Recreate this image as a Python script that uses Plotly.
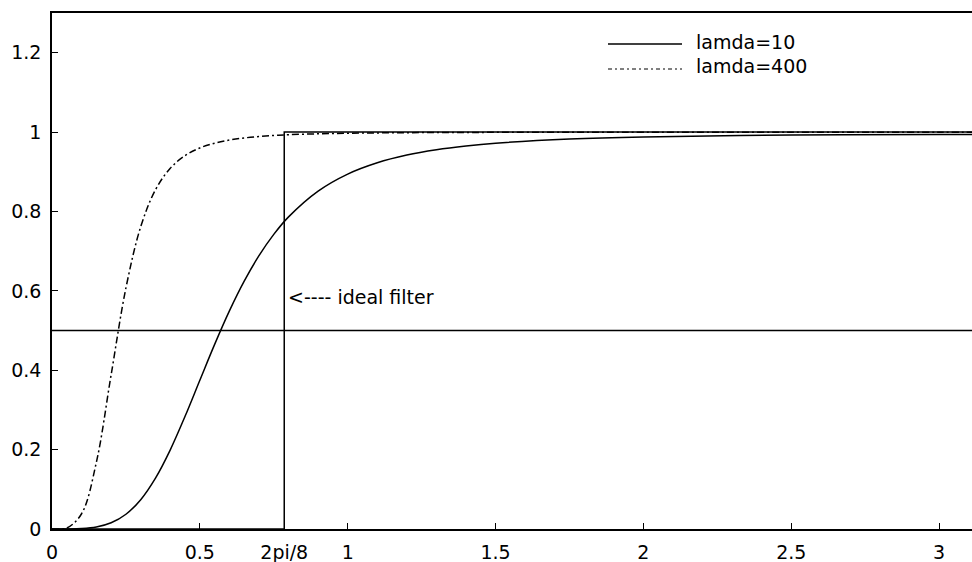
import plotly.graph_objects as go

# frequency (radians)
freq = [0, 0.05, 0.1, 0.15, 0.2, 0.25, 0.3, 0.35, 0.4, 0.45, 0.5, 0.55, 0.6, 0.65,
        0.7, 0.75, 0.8, 0.9, 1.0, 1.1, 1.2, 1.3, 1.4, 1.5, 1.75, 2.0, 2.5, 3.0, 3.1416]
# gain, lambda = 10
gain_l10 = [0, 0.0001, 0.001, 0.005, 0.0156, 0.0372, 0.0739, 0.1282, 0.1995, 0.2839,
            0.3748, 0.4652, 0.5496, 0.6245, 0.6887, 0.7422, 0.7863, 0.8513, 0.8942,
            0.9227, 0.9421, 0.9555, 0.9650, 0.9719, 0.9823, 0.9877, 0.9924, 0.9937, 0.9938]
# gain, lambda = 400
gain_l400 = [0, 0.0025, 0.0384, 0.1679, 0.3886, 0.6073, 0.7614, 0.8547, 0.9088, 0.9407,
             0.9600, 0.9721, 0.9799, 0.9852, 0.9888, 0.9914, 0.9933, 0.9957, 0.9971,
             0.9979, 0.9985, 0.9989, 0.9991, 0.9993, 0.9995, 0.9997, 0.9998, 0.9998, 0.9998]

cutoff = 0.7854  # 2pi/8
ideal_x = [0, cutoff, cutoff, 3.1416]
ideal_y = [0, 0, 1, 1]
half_x = [0, 3.1416]
half_y = [0.5, 0.5]

x_ticks = [0, 0.5, cutoff, 1, 1.5, 2, 2.5, 3]
x_labels = ["0", "0.5", "2pi/8", "1", "1.5", "2", "2.5", "3"]
y_ticks = [0, 0.2, 0.4, 0.6, 0.8, 1, 1.2]
y_labels = ["0", "0.2", "0.4", "0.6", "0.8", "1", "1.2"]

FONT = "DejaVu Sans"
W, H = 972, 562

fig = go.Figure()
fig.add_trace(go.Scatter(x=ideal_x, y=ideal_y, mode="lines",
                         line=dict(color="black", width=1.5), showlegend=False))
fig.add_trace(go.Scatter(x=half_x, y=half_y, mode="lines",
                         line=dict(color="black", width=1.5), showlegend=False))
fig.add_trace(go.Scatter(x=freq, y=gain_l10, mode="lines", name="lamda=10",
                         line=dict(color="black", width=1.5, shape="spline"), showlegend=False))
fig.add_trace(go.Scatter(x=freq, y=gain_l400, mode="lines", name="lamda=400",
                         line=dict(color="black", width=1.5, dash="7px,3px,2px,3px", shape="spline"),
                         showlegend=False))

# legend drawn manually (long sample lines), positions in pixels converted to paper
L, T, B = 52, 13, 33
PW, PH = W - L, H - T - B
def px(xp):
    return (xp - L) / PW
def py(yp):
    return (H - B - yp) / PH

fig.add_shape(type="line", xref="paper", yref="paper", x0=px(608), x1=px(682), y0=py(44), y1=py(44),
              line=dict(color="black", width=1.5))
fig.add_shape(type="line", xref="paper", yref="paper", x0=px(608), x1=px(682), y0=py(69), y1=py(69),
              line=dict(color="black", width=1, dash="4px,3px,2px,3px"))
fig.add_annotation(xref="paper", yref="paper", x=px(694), y=py(42), text="lamda=10",
                   showarrow=False, xanchor="left", yanchor="middle",
                   font=dict(family=FONT, size=19, color="black"))
fig.add_annotation(xref="paper", yref="paper", x=px(694), y=py(66), text="lamda=400",
                   showarrow=False, xanchor="left", yanchor="middle",
                   font=dict(family=FONT, size=19, color="black"))
fig.add_annotation(xref="paper", yref="paper", x=px(286), y=py(297), text="<---- ideal filter",
                   showarrow=False, xanchor="left", yanchor="middle",
                   font=dict(family=FONT, size=19, color="black"))

fig.update_layout(
    width=W, height=H,
    margin=dict(l=L, r=0, t=T, b=B),
    paper_bgcolor="white", plot_bgcolor="white",
    font=dict(family=FONT, size=19, color="black"),
    xaxis=dict(range=[0, PW / 295.7], tickvals=x_ticks, ticktext=x_labels,
               showgrid=False, zeroline=False, showline=True, linecolor="black", linewidth=1.5,
               mirror=True, ticks="inside", ticklen=6, tickcolor="black", tickwidth=1,
               ticklabelstandoff=5),
    yaxis=dict(range=[0, 1.3], tickvals=y_ticks, ticktext=y_labels,
               showgrid=False, zeroline=False, showline=True, linecolor="black", linewidth=1.5,
               mirror=False, ticks="inside", ticklen=6, tickcolor="black", tickwidth=1,
               ticklabelstandoff=5),
)

fig.write_html("out.html", config={"displayModeBar": False},
               post_script="document.body.style.margin='0';document.body.style.overflow='hidden';")
